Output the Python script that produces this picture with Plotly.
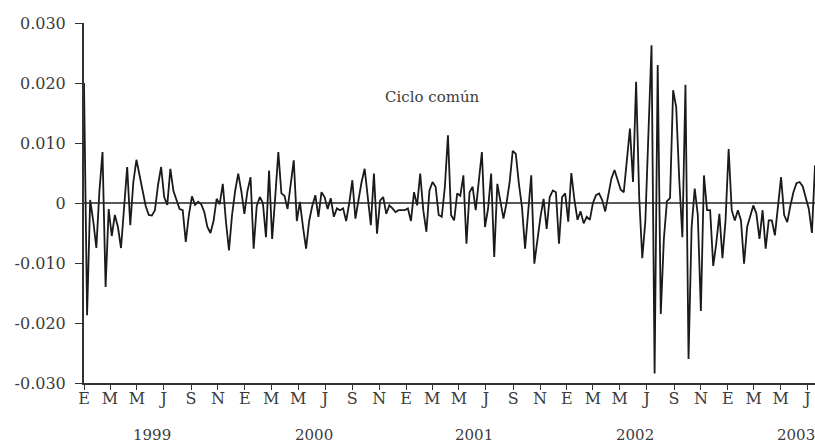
import pandas as pd
import plotly.graph_objects as go

# Weekly common-cycle component, Jan 1999 - Jul 2003
ciclo = [
    0.0200, -0.0187, 0.0005, -0.0030, -0.0075, 0.0020, 0.0085, -0.0140, -0.0010, -0.0055,
    -0.0020, -0.0040, -0.0075, -0.0010, 0.0060, -0.0037, 0.0035, 0.0072, 0.0045, 0.0020,
    -0.0005, -0.0020, -0.0021, -0.0012, 0.0030, 0.0060, 0.0010, -0.0003, 0.0057, 0.0020,
    0.0003, -0.0010, -0.0012, -0.0065, -0.0020, 0.0011, -0.0003, 0.0002, -0.0002, -0.0015,
    -0.0040, -0.0050, -0.0030, 0.0007, -0.0002, 0.0032, -0.0030, -0.0079, -0.0020, 0.0020,
    0.0049, 0.0020, -0.0018, 0.0020, 0.0043, -0.0076, -0.0005, 0.0010, 0.0000, -0.0057,
    0.0054, -0.0060, 0.0010, 0.0085, 0.0016, 0.0012, -0.0010, 0.0030, 0.0071, -0.0030,
    0.0002, -0.0040, -0.0076, -0.0030, -0.0005, 0.0013, -0.0023, 0.0018, 0.0010, -0.0010,
    0.0008, -0.0023, -0.0009, -0.0012, -0.0009, -0.0030, 0.0000, 0.0038, -0.0026, 0.0005,
    0.0035, 0.0057, 0.0010, -0.0037, 0.0049, -0.0051, 0.0004, 0.0010, -0.0018, -0.0004,
    -0.0009, -0.0015, -0.0012, -0.0012, -0.0012, -0.0009, -0.0030, 0.0018, -0.0004, 0.0049,
    -0.0012, -0.0048, 0.0021, 0.0035, 0.0027, -0.0020, -0.0023, 0.0027, 0.0113, -0.0020,
    -0.0029, 0.0016, 0.0012, 0.0046, -0.0068, 0.0018, 0.0027, -0.0012, 0.0043, 0.0085,
    -0.0040, -0.0010, 0.0049, -0.0090, 0.0032, 0.0004, -0.0026, 0.0000, 0.0035, 0.0087,
    0.0082, 0.0032, -0.0007, -0.0076, -0.0007, 0.0046, -0.0101, -0.0057, -0.0023, 0.0007,
    -0.0043, 0.0010, 0.0021, 0.0018, -0.0068, 0.0010, 0.0016, -0.0031, 0.0050, 0.0005,
    -0.0028, -0.0014, -0.0034, -0.0023, -0.0028, 0.0000, 0.0013, 0.0016, 0.0005, -0.0014,
    0.0016, 0.0041, 0.0055, 0.0038, 0.0022, 0.0018, 0.0074, 0.0124, 0.0035, 0.0202,
    0.0010, -0.0092, -0.0030, 0.0105, 0.0263, -0.0284, 0.0230, -0.0185, -0.0060, 0.0003,
    0.0008, 0.0188, 0.0160, 0.0038, -0.0057, 0.0197, -0.0260, -0.0040, 0.0024, -0.0020,
    -0.0180, 0.0046, -0.0012, -0.0012, -0.0105, -0.0067, -0.0018, -0.0092, -0.0029, 0.0090,
    -0.0012, -0.0029, -0.0012, -0.0029, -0.0101, -0.0040, -0.0020, -0.0004, -0.0018, -0.0060,
    -0.0012, -0.0076, -0.0029, -0.0029, -0.0054, -0.0007, 0.0043, -0.0020, -0.0032, -0.0005,
    0.0018, 0.0033, 0.0035, 0.0028, 0.0010, -0.0010, -0.0050, 0.0063,
]
fechas = pd.date_range("1999-01-01", periods=len(ciclo), freq="7D")

# Bimonthly ticks with Spanish month initials
meses = ["E", "M", "M", "J", "S", "N"]
tick_fechas = pd.date_range("1999-01-01", "2003-07-01", freq="2MS")
tick_texto = [meses[(d.month - 1) // 2] for d in tick_fechas]

anios = ["1999", "2000", "2001", "2002", "2003"]

y_ticks = [-0.03, -0.02, -0.01, 0.0, 0.01, 0.02, 0.03]
y_texto = ["-0.030", "-0.020", "-0.010", "0", "0.010", "0.020", "0.030"]

fuente = "DejaVu Serif"
gris = "#3c3c3c"
eje = "#333333"

fig = go.Figure()
fig.add_trace(go.Scatter(
    x=fechas, y=ciclo, mode="lines",
    line=dict(color="#1a1a1a", width=1.8),
    showlegend=False, hoverinfo="skip",
))

# zero reference line
fig.add_shape(type="line", xref="paper", x0=0, x1=1, yref="y", y0=0, y1=0,
              line=dict(color="#222222", width=1.5))

fig.add_annotation(x="2001-03-02", y=0.0177, text="Ciclo común", showarrow=False,
                   font=dict(family=fuente, size=15, color=gris))

for a in anios:
    fig.add_annotation(x=f"{a}-06-05", y=0, yref="paper", yanchor="top", yshift=-41,
                       text=a, showarrow=False,
                       font=dict(family=fuente, size=15, color=gris))

fig.update_layout(
    width=815, height=443,
    margin=dict(l=84, r=0, t=23, b=60),
    paper_bgcolor="white", plot_bgcolor="white",
    xaxis=dict(
        type="date", range=["1999-01-01", "2003-07-18"],
        tickvals=tick_fechas, ticktext=tick_texto,
        ticks="outside", ticklen=5, tickwidth=1.2, tickcolor=eje,
        showline=True, linecolor=eje, linewidth=2,
        showgrid=False, zeroline=False,
        ticklabelstandoff=-5,
        tickfont=dict(family=fuente, size=16, color=gris),
    ),
    yaxis=dict(
        range=[-0.030, 0.030],
        tickvals=y_ticks, ticktext=y_texto,
        ticks="outside", ticklen=7, tickwidth=1.2, tickcolor=eje,
        showline=True, linecolor=eje, linewidth=2,
        showgrid=False, zeroline=False,
        ticklabelstandoff=6,
        tickfont=dict(family=fuente, size=16, color=gris),
    ),
)

fig.write_html("out.html")
